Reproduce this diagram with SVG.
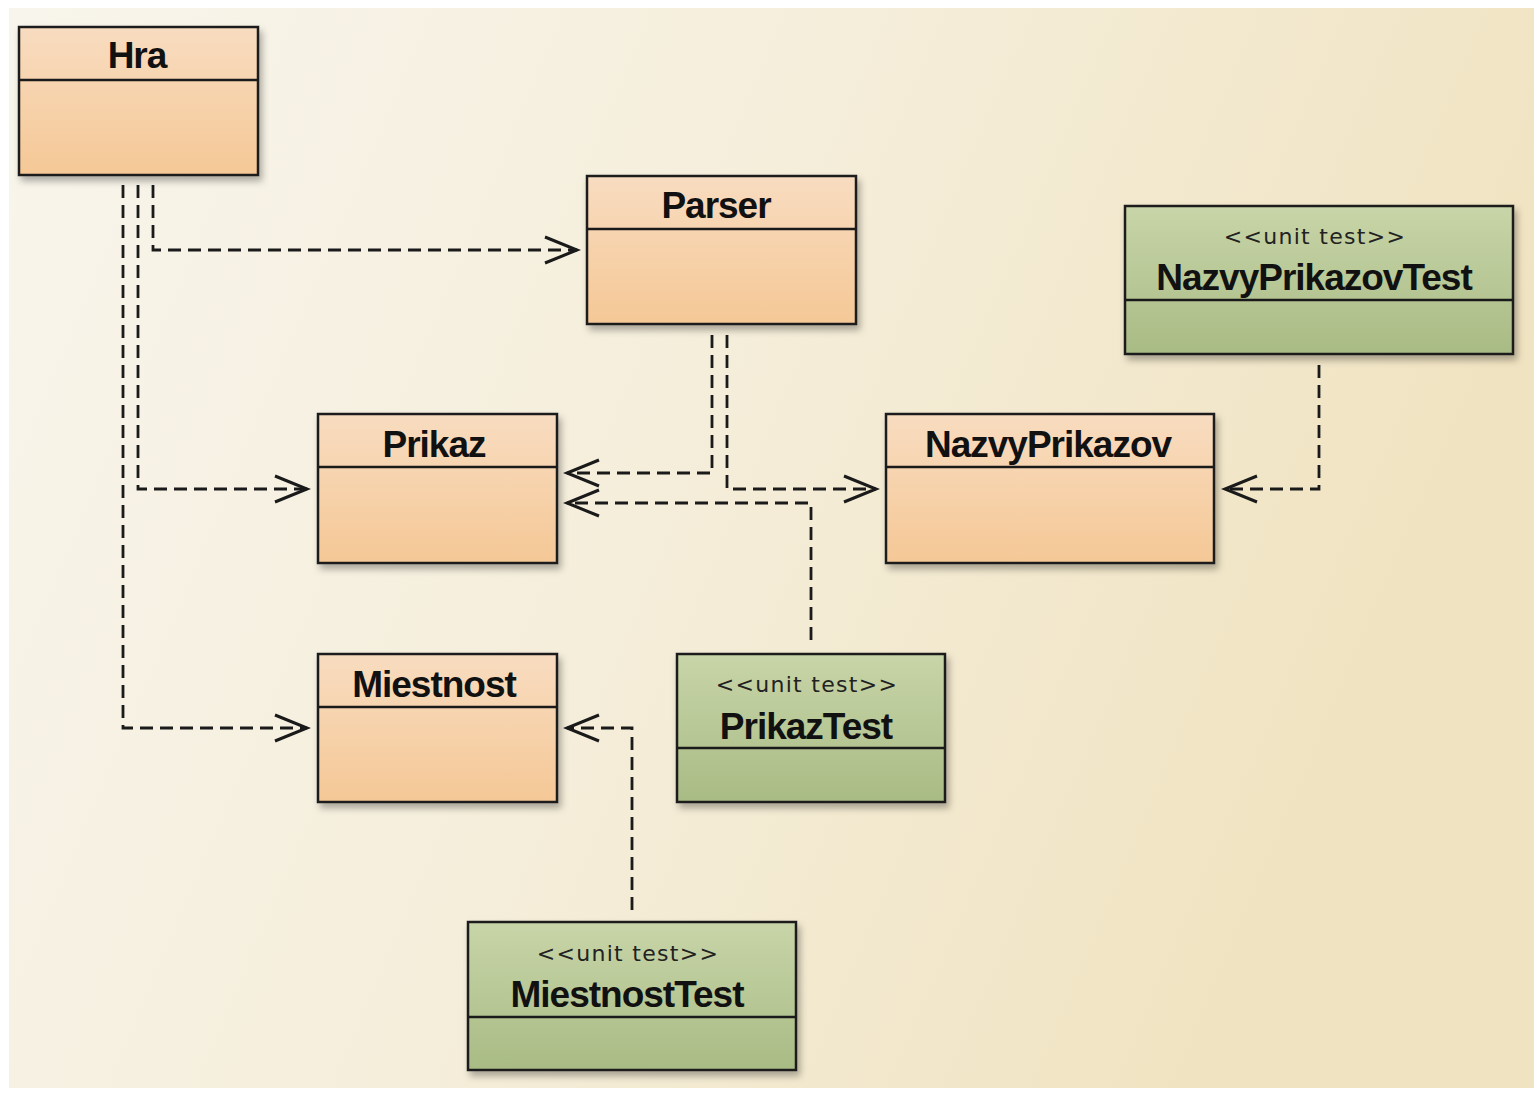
<svg xmlns="http://www.w3.org/2000/svg" width="1534" height="1093" viewBox="0 0 1534 1093">
<defs>
<linearGradient id="bg" x1="0" y1="0" x2="1" y2="0.3">
<stop offset="0" stop-color="#f8f5ec"/>
<stop offset="0.5" stop-color="#f5eedb"/>
<stop offset="1" stop-color="#f0e3c1"/>
</linearGradient>
<linearGradient id="orange" x1="0" y1="0" x2="0" y2="1">
<stop offset="0" stop-color="#f8dcc0"/>
<stop offset="1" stop-color="#f5c896"/>
</linearGradient>
<linearGradient id="green" x1="0" y1="0" x2="0" y2="1">
<stop offset="0" stop-color="#c8d5a8"/>
<stop offset="1" stop-color="#a9bb85"/>
</linearGradient>
<filter id="shadow" x="-10%" y="-10%" width="130%" height="130%">
<feDropShadow dx="3" dy="5" stdDeviation="3.5" flood-color="#000" flood-opacity="0.3"/>
</filter>
<marker id="open" markerUnits="userSpaceOnUse" markerWidth="40" markerHeight="40" viewBox="-36 -20 40 40" refX="0" refY="0" orient="auto">
<path d="M-32,-13 L0,0 L-32,13" fill="none" stroke="#1a1a1a" stroke-width="3"/>
</marker>
</defs>
<style>
.box{stroke:#1a1a1a;stroke-width:2.5;filter:url(#shadow)}
.cls{fill:url(#orange)}
.tst{fill:url(#green)}
.div{stroke:#1a1a1a;stroke-width:2.5}
.name{font-family:"Liberation Sans",Arial,sans-serif;font-weight:bold;font-size:37px;letter-spacing:-1px;fill:#111;text-anchor:middle}
.st{font-family:"DejaVu Sans",Verdana,sans-serif;font-size:22px;fill:#222;text-anchor:middle;letter-spacing:1.3px}
.dep{fill:none;stroke:#1a1a1a;stroke-width:2.8;stroke-dasharray:13 7;marker-end:url(#open)}
</style>
<rect width="1534" height="1093" fill="#ffffff"/>
<rect x="9" y="8" width="1525" height="1080" fill="url(#bg)"/>

<g id="connectors">
<path class="dep" d="M153,185 V250 H577"/>
<path class="dep" d="M138,185 V489 H307"/>
<path class="dep" d="M123,185 V728 H307"/>
<path class="dep" d="M712,335 V473 H567"/>
<path class="dep" d="M727,335 V489 H876"/>
<path class="dep" d="M811,640 V503 H567"/>
<path class="dep" d="M1319,365 V489 H1225"/>
<path class="dep" d="M632,910 V728 H567"/>
</g>

<g id="Hra">
<rect class="box cls" x="19" y="27" width="239" height="148"/>
<line class="div" x1="19" y1="80" x2="258" y2="80"/>
<text class="name" x="137" y="68">Hra</text>
</g>

<g id="Parser">
<rect class="box cls" x="587" y="176" width="269" height="148"/>
<line class="div" x1="587" y1="229" x2="856" y2="229"/>
<text class="name" x="716" y="218">Parser</text>
</g>

<g id="NazvyPrikazovTest">
<rect class="box tst" x="1125" y="206" width="388" height="148"/>
<line class="div" x1="1125" y1="300" x2="1513" y2="300"/>
<text class="st" x="1315" y="244">&lt;&lt;unit test&gt;&gt;</text>
<text class="name" x="1314" y="290">NazvyPrikazovTest</text>
</g>

<g id="Prikaz">
<rect class="box cls" x="318" y="414" width="239" height="149"/>
<line class="div" x1="318" y1="467" x2="557" y2="467"/>
<text class="name" x="434" y="457">Prikaz</text>
</g>

<g id="NazvyPrikazov">
<rect class="box cls" x="886" y="414" width="328" height="149"/>
<line class="div" x1="886" y1="467" x2="1214" y2="467"/>
<text class="name" x="1048" y="457">NazvyPrikazov</text>
</g>

<g id="Miestnost">
<rect class="box cls" x="318" y="654" width="239" height="148"/>
<line class="div" x1="318" y1="707" x2="557" y2="707"/>
<text class="name" x="434" y="697">Miestnost</text>
</g>

<g id="PrikazTest">
<rect class="box tst" x="677" y="654" width="268" height="148"/>
<line class="div" x1="677" y1="748" x2="945" y2="748"/>
<text class="st" x="807" y="692">&lt;&lt;unit test&gt;&gt;</text>
<text class="name" x="806" y="739">PrikazTest</text>
</g>

<g id="MiestnostTest">
<rect class="box tst" x="468" y="922" width="328" height="148"/>
<line class="div" x1="468" y1="1017" x2="796" y2="1017"/>
<text class="st" x="628" y="961">&lt;&lt;unit test&gt;&gt;</text>
<text class="name" x="627" y="1007">MiestnostTest</text>
</g>
</svg>
